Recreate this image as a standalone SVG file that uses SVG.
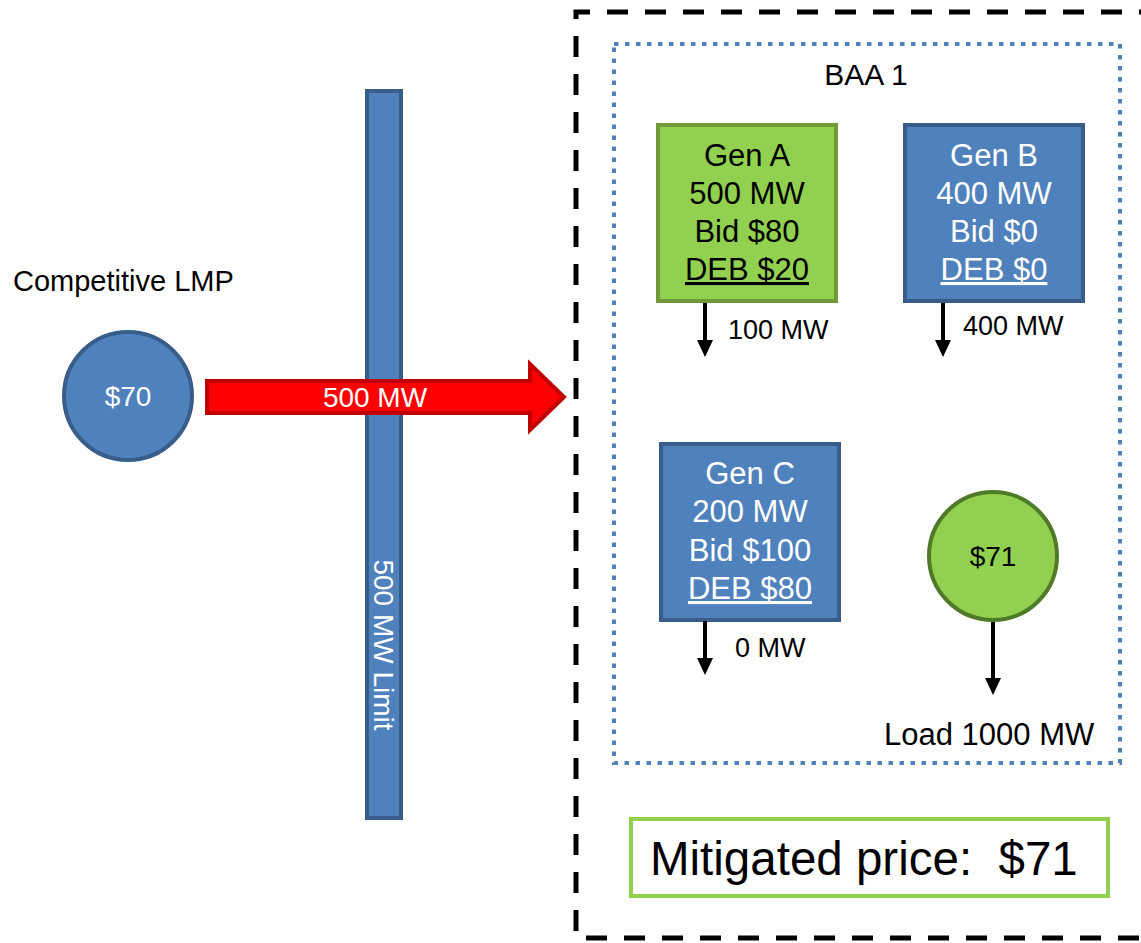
<svg xmlns="http://www.w3.org/2000/svg" width="1141" height="943" viewBox="0 0 1141 943">
<style>
text{font-family:"Liberation Sans",Arial,sans-serif;}
.blue{fill:#4F81BD;stroke:#385D8A;stroke-width:4;}
.green{fill:#92D050;stroke:#71993A;stroke-width:4;}
.w{fill:#FFFFFF;}
.k{fill:#000000;}
.gen{font-size:31px;text-anchor:middle;}
.lbl{font-size:27px;}
.conn{stroke:#000;stroke-width:4;fill:none;}
</style>
<defs>
<marker id="ah" viewBox="0 0 17 16" refX="0" refY="8" markerWidth="17" markerHeight="16" markerUnits="userSpaceOnUse" orient="auto">
<path d="M0,0 L17,8 L0,16 z" fill="#000"/>
</marker>
</defs>
<rect width="1141" height="943" fill="#FFFFFF"/>
<g id="outer-region">
<path d="M1160 12 H576 V938 H1160" fill="none" stroke="#000" stroke-width="5" stroke-dasharray="21 17"/>
</g>
<g id="baa1">
<rect x="614" y="44" width="506" height="719" fill="none" stroke="#4F81BD" stroke-width="4" stroke-dasharray="4.5 6.5"/>
<text x="866" y="85" class="k" font-size="30" text-anchor="middle">BAA 1</text>
</g>
<g id="limit-bar">
<rect x="367" y="91" width="34" height="727" class="blue" stroke-width="3"/>
<text transform="translate(374,645) rotate(90)" class="w" font-size="28" text-anchor="middle">500 MW Limit</text>
</g>
<g id="competitive-lmp">
<text x="13" y="291" class="k" font-size="29">Competitive LMP</text>
<circle cx="128" cy="396" r="64" class="blue"/>
<text x="128" y="406" class="w" font-size="28" text-anchor="middle">$70</text>
</g>
<g id="flow-arrow">
<path d="M207,381 H530 V364 L564,397 L530,430 V413 H207 Z" fill="#FF0000" stroke="#C00000" stroke-width="4"/>
<text x="375" y="407" class="w" font-size="28" text-anchor="middle">500 MW</text>
</g>
<g id="gen-a">
<rect x="658" y="125" width="178" height="176" class="green"/>
<text class="gen k" x="747" y="166">Gen A</text>
<text class="gen k" x="747" y="204">500 MW</text>
<text class="gen k" x="747" y="242">Bid $80</text>
<text class="gen k" x="747" y="280" text-decoration="underline">DEB $20</text>
</g>
<g id="gen-b">
<rect x="905" y="125" width="178" height="176" class="blue"/>
<text class="gen w" x="994" y="166">Gen B</text>
<text class="gen w" x="994" y="204">400 MW</text>
<text class="gen w" x="994" y="242">Bid $0</text>
<text class="gen w" x="994" y="280" text-decoration="underline">DEB $0</text>
</g>
<g id="gen-c">
<rect x="661" y="444" width="178" height="176" class="blue"/>
<text class="gen w" x="750" y="484">Gen C</text>
<text class="gen w" x="750" y="522">200 MW</text>
<text class="gen w" x="750" y="561">Bid $100</text>
<text class="gen w" x="750" y="599" text-decoration="underline">DEB $80</text>
</g>
<g id="load-node">
<circle cx="993" cy="556" r="64" fill="#92D050" stroke="#4F7A28" stroke-width="4"/>
<text x="993" y="566" class="k" font-size="28" text-anchor="middle">$71</text>
</g>
<g id="connectors">
<line x1="705" y1="303" x2="705" y2="340" class="conn" marker-end="url(#ah)"/>
<line x1="943" y1="303" x2="943" y2="340" class="conn" marker-end="url(#ah)"/>
<line x1="705" y1="621" x2="705" y2="658" class="conn" marker-end="url(#ah)"/>
<line x1="993" y1="622" x2="993" y2="678" class="conn" marker-end="url(#ah)"/>
</g>
<g id="flow-labels">
<text x="728" y="339" class="k lbl">100 MW</text>
<text x="963" y="335" class="k lbl">400 MW</text>
<text x="735" y="657" class="k lbl">0 MW</text>
<text x="884" y="745" class="k" font-size="31">Load 1000 MW</text>
</g>
<g id="mitigated-price">
<rect x="631" y="819" width="477" height="77" fill="#FFFFFF" stroke="#92D050" stroke-width="4"/>
<text x="650" y="875" class="k" font-size="47.5" xml:space="preserve">Mitigated price:  $71</text>
</g>
</svg>
